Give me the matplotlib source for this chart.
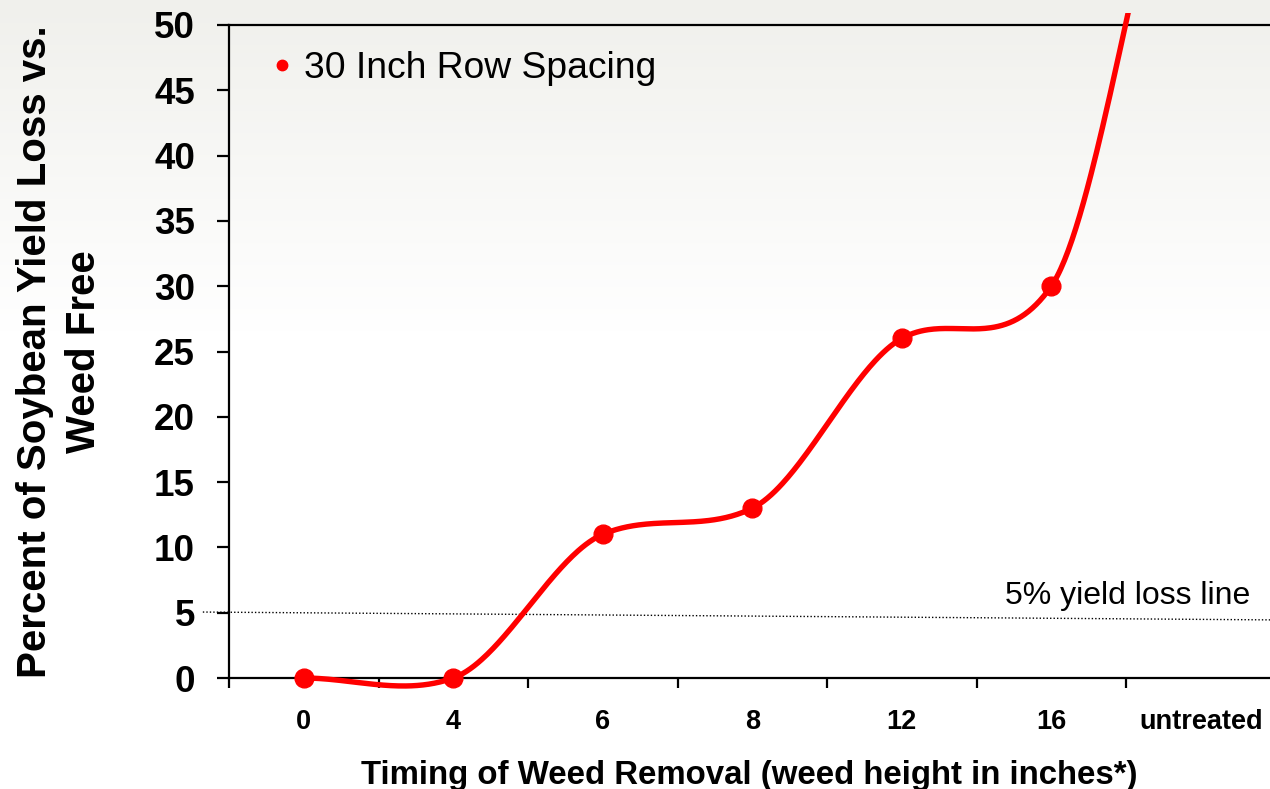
"""Soybean yield loss vs. timing of weed removal (30 inch rows)."""

import matplotlib
matplotlib.use("Agg")
import matplotlib.pyplot as plt
import numpy as np
from matplotlib import patches
from matplotlib.lines import Line2D

# data
TIMING_LABELS = ["0", "4", "6", "8", "12", "16", "untreated"]
YIELD_LOSS = [0, 0, 11, 13, 26, 30, 70]
THRESHOLD = 5

RED = "#FF0000"
FONT = "Liberation Sans"

plt.rcParams["font.family"] = [FONT, "DejaVu Sans"]


def cardinal_spline(xs, ys, tension=0.25, n=80):
    """Smoothed line through the points (cardinal spline, ends duplicated)."""
    ys = np.asarray(ys, dtype=float)
    ext = np.concatenate([[ys[0]], ys, [ys[-1]]])
    m = (1 - tension) * (ext[2:] - ext[:-2]) / 2
    t = np.linspace(0, 1, n)
    h00 = 2 * t**3 - 3 * t**2 + 1
    h10 = t**3 - 2 * t**2 + t
    h01 = -2 * t**3 + 3 * t**2
    h11 = t**3 - t**2
    px, py = [], []
    for i in range(len(ys) - 1):
        seg = h00 * ys[i] + h10 * m[i] + h01 * ys[i + 1] + h11 * m[i + 1]
        sx = xs[i] + t * (xs[i + 1] - xs[i])
        start = 0 if i == 0 else 1
        px.append(sx[start:])
        py.append(seg[start:])
    return np.concatenate(px), np.concatenate(py)


def main():
    fig = plt.figure(figsize=(12.7, 7.89), dpi=100)
    fig.patch.set_facecolor("white")

    # soft grey-to-white background
    bg = fig.add_axes([0, 0, 1, 1], zorder=-5)
    rows = np.linspace(0, 1, 789)
    frac = np.clip(rows / 0.42, 0, 1)
    top = np.array([240, 240, 236]) / 255
    col = top[None, :] * (1 - frac[:, None]) + np.ones(3)[None, :] * frac[:, None]
    bg.imshow(np.repeat(col[:, None, :], 4, axis=1), aspect="auto",
              extent=(0, 1, 0, 1), origin="upper")
    bg.axis("off")

    ax = fig.add_axes([229 / 1270, 1 - 678 / 789, 1 - 229 / 1270, (678 - 25) / 789])
    ax.patch.set_alpha(0)
    ax.set_xlim(-0.5, -0.5 + 1041 / 149.5)
    ax.set_ylim(0, 50)

    x = np.arange(len(TIMING_LABELS))
    sx, sy = cardinal_spline(x, YIELD_LOSS)
    line, = ax.plot(sx, sy, color=RED, lw=3.9, solid_capstyle="butt", zorder=3)
    clip = patches.Rectangle((-0.5, -3), 7.5, 53.9, transform=ax.transData)
    line.set_clip_path(clip)
    ax.plot(x[:-1], YIELD_LOSS[:-1], "o", color=RED, ms=13.5, clip_on=False, zorder=4)

    # 5% yield-loss reference line (slightly tilted in the original)
    ax.plot([-0.675, ax.get_xlim()[1]], [THRESHOLD + 0.05, THRESHOLD - 0.55],
            color="black", lw=1.0, linestyle=(0, (1, 1.5)), clip_on=False, zorder=2)
    ax.text(6.33, THRESHOLD + 1.3, "5% yield loss line", ha="right", va="center",
            fontsize=23, color="black")

    ax.spines["right"].set_visible(False)
    for side in ("left", "bottom", "top"):
        ax.spines[side].set_linewidth(1.6)

    ax.set_yticks(np.arange(0, 51, 5))
    ax.set_yticklabels([str(v) for v in range(0, 51, 5)], fontsize=26.5, fontweight="bold")
    ax.tick_params(axis="y", direction="out", length=8.5, width=1.6, pad=16)

    ax.set_xticks(x)
    ax.set_xticklabels(TIMING_LABELS, fontsize=19.5, fontweight="bold")
    ax.set_xticks(np.arange(-0.5, len(TIMING_LABELS) - 1, 1), minor=True)
    ax.tick_params(axis="x", which="major", length=0, pad=22)
    ax.tick_params(axis="x", which="minor", direction="out", length=7.5, width=1.6)

    ax.set_xlabel("Timing of Weed Removal (weed height in inches*)",
                  fontsize=23.8, fontweight="bold", labelpad=18)
    ax.set_ylabel("Percent of Soybean Yield Loss vs.\nWeed Free",
                  fontsize=29, fontweight="bold", linespacing=1.35)
    ax.yaxis.set_label_coords(-0.1215, 0.5)

    handle = Line2D([], [], marker="o", color=RED, linestyle="none", ms=7.5)
    ax.legend([handle], ["30 Inch Row Spacing"], loc="upper left",
              bbox_to_anchor=(0.022, 0.983), frameon=False, fontsize=26.8,
              handletextpad=0.2, handlelength=0.8, borderaxespad=0)

    fig.savefig("out.png", dpi=100)
    plt.close(fig)


if __name__ == "__main__":
    main()
